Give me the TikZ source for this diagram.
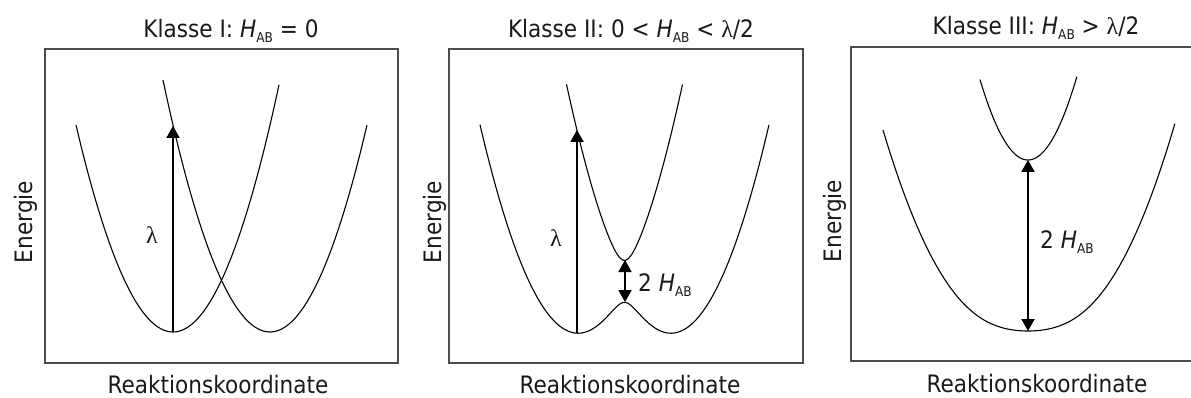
\documentclass[tikz,border=0pt]{standalone}
\usepackage{fontspec}
\setmainfont{DejaVu Sans}[FakeStretch=0.9]
\newfontfamily\grkfont{Liberation Serif}
\usetikzlibrary{arrows.meta}
\newcommand\lam{{\grkfont λ}}
\newcommand\hab{\textit{H}\raisebox{-5pt}{\fontsize{13.5}{14}\selectfont AB}}
\begin{document}
\begin{tikzpicture}[x=1pt,y=-1pt,
  lbl/.style={font=\fontsize{24}{28}\selectfont, inner sep=0pt, text=black!90},
  frame/.style={draw=black!70, line width=1.4pt},
  curve/.style={line width=1.1pt, black},
  arr/.style={line width=2pt, -{Triangle[width=13pt,length=12pt]}},
  darr/.style={line width=2pt, {Triangle[width=13pt,length=12pt]}-{Triangle[width=13pt,length=12pt]}},
]
\useasboundingbox (0,0) rectangle (1191,398);

% ---------- Panel 1 ----------
\draw[frame] (45,49) rectangle (398,363);
\node[lbl, anchor=base] (t1) at (231,38) {Klasse I: \hab{} = 0};
\node[lbl, rotate=90, anchor=base] (e1) at (32,222) {Energie};
\node[lbl, anchor=base] (r1) at (218,393.5) {Reaktionskoordinate};
\draw[curve] plot[domain=-0.97:1.06, samples=80, variable=\t] ({173+100*\t}, {332-220*\t*\t});
\draw[curve] plot[domain=-1.07:0.97, samples=80, variable=\t] ({270+100*\t}, {332-220*\t*\t});
\coordinate (a1s) at (173,332);
\coordinate (a1e) at (173,126);
\draw[arr] (a1s) -- (a1e);
\node[lbl] (l1) at (152,235) {\lam};

% ---------- Panel 2 ----------
\draw[frame] (449,49) rectangle (803,363);
\node[lbl, anchor=base] (t2) at (631,38) {Klasse II: 0 < \hab{} < \lam/2};
\node[lbl, rotate=90, anchor=base] (e2) at (441,222) {Energie};
\node[lbl, anchor=base] (r2) at (630,393.5) {Reaktionskoordinate};
\draw[curve] plot[domain=-1.445:1.445, samples=160, variable=\t]
  ({624.5+100*\t}, {331-(220*(\t*\t+0.2256)-21*sqrt(1+99.04*\t*\t))});
\draw[curve] plot[domain=-0.58:0.58, samples=80, variable=\t]
  ({624.5+100*\t}, {331-(220*(\t*\t+0.2256)+21*sqrt(1+99.04*\t*\t))});
\coordinate (a2s) at (577,333);
\coordinate (a2e) at (577,130);
\draw[arr] (a2s) -- (a2e);
\node[lbl] (l2) at (556,238) {\lam};
\coordinate (d2t) at (625,260);
\coordinate (d2b) at (625,302);
\draw[darr] (d2t) -- (d2b);
\node[lbl, anchor=base west] (h2) at (638,291) {2 \hab};

% ---------- Panel 3 ----------
\draw[frame] (851,47) rectangle (1200,361);
\node[lbl, anchor=base] (t3) at (1036,35) {Klasse III: \hab{} > \lam/2};
\node[lbl, rotate=90, anchor=base] (e3) at (841,221) {Energie};
\node[lbl, anchor=base] (r3) at (1037,392.5) {Reaktionskoordinate};
\draw[curve] plot[domain=-1.45:1.47, samples=160, variable=\t]
  ({1028+100*\t}, {331-(160*\t*\t-85.5*(sqrt(1+2.699*\t*\t)-1))});
\draw[curve] plot[domain=-0.48:0.49, samples=80, variable=\t]
  ({1028+100*\t}, {160-349*\t*\t});
\coordinate (d3t) at (1028,160);
\coordinate (d3b) at (1028,331);
\draw[darr] (d3t) -- (d3b);
\node[lbl, anchor=base west] (h3) at (1040,248) {2 \hab};
\end{tikzpicture}
\end{document}
